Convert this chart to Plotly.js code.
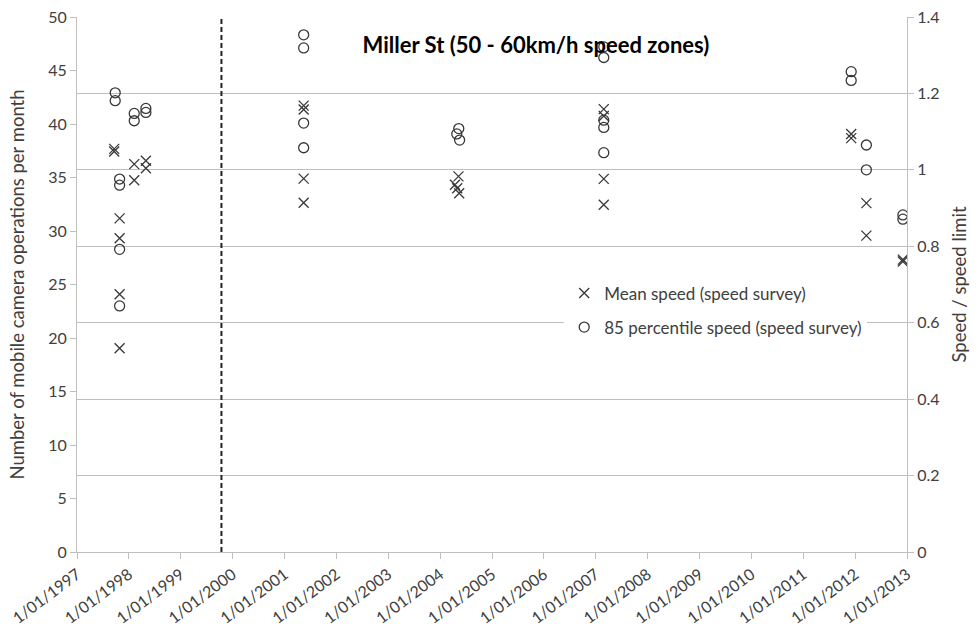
<!DOCTYPE html>
<html>
<head>
<meta charset="utf-8">
<script src="https://cdn.plot.ly/plotly-3.0.1.min.js"></script>
<style>html,body{margin:0;padding:0;background:#fff;}#chart{width:978px;height:636px;}</style>
</head>
<body>
<div id="chart"></div>
<script>
// ---- data ----
const meanDates = ['1997-09-20','1997-09-20','1997-10-28','1997-10-28','1997-10-28','1997-10-28','1998-02-08','1998-02-08','1998-05-01','1998-05-01',
  '2001-05-16','2001-05-16','2001-05-16','2001-05-16','2004-05-10','2004-04-15','2004-05-01','2004-05-15',
  '2007-02-27','2007-02-27','2007-02-27','2007-02-27','2011-12-05','2011-12-05','2012-03-21','2012-03-21','2012-12-03','2012-12-03'];
const meanRatio = [1.055,1.048,0.873,0.821,0.6745,0.533,1.015,0.973,1.024,1.004,
  1.168,1.158,0.977,0.914,0.983,0.961,0.952,0.939,
  1.159,1.141,0.9765,0.9087,1.094,1.083,0.913,0.828,0.765,0.760];
const pctDates = ['1997-09-27','1997-09-27','1997-10-28','1997-10-28','1997-10-28','1997-10-28','1998-02-08','1998-02-08','1998-05-01','1998-05-01',
  '2001-05-16','2001-05-16','2001-05-16','2001-05-16','2004-05-12','2004-04-28','2004-05-18',
  '2007-02-27','2007-02-27','2007-02-27','2007-02-27','2007-02-27','2011-12-05','2011-12-05','2012-03-21','2012-03-21','2012-12-03','2012-12-03'];
const pctRatio = [1.2017,1.181,0.976,0.960,0.792,0.644,1.1477,1.1285,1.1608,1.1503,
  1.3534,1.319,1.1224,1.0578,1.108,1.094,1.078,
  1.322,1.294,1.13,1.111,1.045,1.257,1.234,1.065,1.0,0.882,0.871];
const tickYears = [1997,1998,1999,2000,2001,2002,2003,2004,2005,2006,2007,2008,2009,2010,2011,2012,2013];
const tickDates = tickYears.map(y => y + '-01-01');
const tickLabels = tickYears.map(y => '1/01/' + y);
const eventDate = ['1999-10-15'];
const titleText = 'Miller St (50 - 60km/h speed zones)';
const leftTitle = 'Number of mobile camera operations per month';
const rightTitle = 'Speed / speed limit';
const seriesNames = ['Mean speed (speed survey)', '85 percentile speed (speed survey)'];

// ---- chart ----
const FONT = 'Lato, "Open Sans", sans-serif';
const AX = '#bfbfbf';
const TXT = '#404040';
const FS = 16;
const traces = [
  {x: [tickDates[0]], y: [null], yaxis: 'y', type: 'scatter', mode: 'markers', showlegend: false, hoverinfo: 'skip'},
  {x: meanDates, y: meanRatio, yaxis: 'y2', type: 'scatter', mode: 'markers', name: seriesNames[0], legendgroup: 'a',
   marker: {symbol: 'x-thin-open', size: 10, line: {width: 1.3, color: '#383838'}, color: '#383838'}},
  {x: pctDates, y: pctRatio, yaxis: 'y2', type: 'scatter', mode: 'markers', name: seriesNames[1], legendgroup: 'b',
   marker: {symbol: 'circle-open', size: 10, line: {width: 1.3, color: '#383838'}, color: '#383838'}}
];
const layout = {
  width: 978, height: 636,
  margin: {l: 77, r: 70.5, t: 17, b: 83.5},
  paper_bgcolor: '#fff', plot_bgcolor: '#fff',
  font: {family: FONT, size: FS, color: TXT},
  showlegend: true,
  legend: {x: 0.587, y: 0.517, xanchor: 'left', yanchor: 'top', bgcolor: '#fff', borderwidth: 0,
           font: {family: FONT, size: 17, color: TXT}, tracegroupgap: 9, itemwidth: 30},
  title: {text: '<b>' + titleText + '</b>', x: 0.548, xanchor: 'center', y: 0.929, yanchor: 'middle',
          font: {family: FONT, size: 22, color: '#000'}},
  xaxis: {type: 'date', range: ['1997-01-01', '2013-01-01'], tickmode: 'array', tickvals: tickDates, ticktext: tickLabels,
          tickangle: -37, ticks: 'outside', ticklen: 6, tickcolor: AX, showline: true, linecolor: AX, linewidth: 1,
          showgrid: false, zeroline: false, automargin: false, tickfont: {size: FS, color: TXT}},
  yaxis: {range: [0, 50], dtick: 5, tick0: 0, ticks: 'outside', ticklen: 6, tickcolor: AX, showline: true, linecolor: AX,
          showgrid: false, zeroline: false, automargin: false, tickfont: {size: FS, color: TXT},
          title: {text: leftTitle, font: {size: 18.5, color: TXT}, standoff: 18}},
  yaxis2: {range: [0, 1.4], dtick: 0.2, tick0: 0, overlaying: 'y', side: 'right', ticks: 'outside', ticklen: 6, tickcolor: AX,
           showline: true, linecolor: AX, showgrid: true, gridcolor: AX, gridwidth: 1, zeroline: false, automargin: false,
           tickfont: {size: FS, color: TXT},
           title: {text: rightTitle, font: {size: 18.5, color: TXT}, standoff: 14}},
  shapes: eventDate.map(d => ({type: 'line', xref: 'x', yref: 'paper', x0: d, x1: d, y0: 0, y1: 1,
           line: {color: '#222', width: 2, dash: '5px,3px'}}))
};
Plotly.newPlot('chart', traces, layout, {displayModeBar: false, staticPlot: true});
</script>
</body>
</html>
